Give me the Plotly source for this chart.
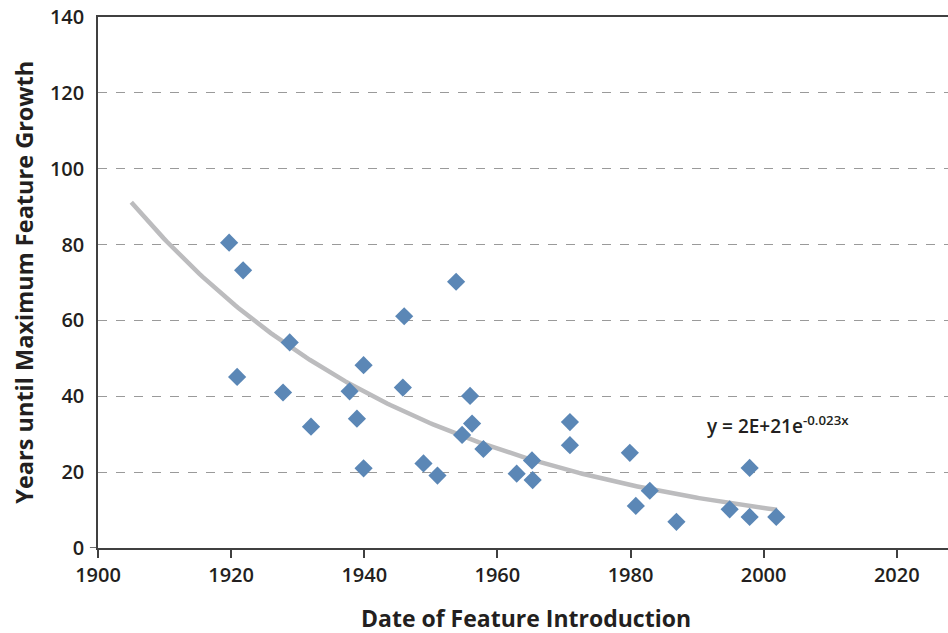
import numpy as np
import plotly.graph_objects as go

# Year each feature was introduced and years until its growth peaked
intro_year = [1919.7, 1921.8, 1920.9, 1928.8, 1927.8, 1932.0, 1937.8, 1939.9, 1938.9,
              1939.9, 1946.0, 1945.8, 1948.9, 1951.0, 1953.8, 1955.9, 1956.2, 1954.7,
              1957.9, 1962.9, 1965.2, 1965.3, 1970.9, 1970.9, 1979.9, 1980.8, 1982.9,
              1986.9, 1994.9, 1997.9, 1997.9, 2001.9]
years_to_peak = [80.5, 73.2, 45.1, 54.2, 41.0, 32.0, 41.3, 48.2, 34.1,
                 21.0, 61.1, 42.3, 22.3, 19.1, 70.2, 40.1, 32.8, 29.8,
                 26.1, 19.6, 23.1, 17.9, 33.2, 27.1, 25.1, 11.1, 15.1,
                 6.9, 10.2, 21.1, 8.2, 8.2]

# Exponential trend y = a * exp(-b x), drawn from 1905 to 2002
trend_a = 5.5e20
trend_b = 0.0227
trend_start, trend_end = 1905, 2002
equation_text = "y = 2E+21e<sup>-0.023x</sup>"

x_ticks = [1900, 1920, 1940, 1960, 1980, 2000, 2020]
y_ticks = [0, 20, 40, 60, 80, 100, 120, 140]

tx = np.linspace(trend_start, trend_end, 200)
ty = trend_a * np.exp(-trend_b * tx)

font_family = "Open Sans"
text_color = "#231f20"

fig = go.Figure()
fig.add_trace(go.Scatter(
    x=tx, y=ty, mode="lines",
    line=dict(color="#bcbcbe", width=4.5),
    hoverinfo="skip", showlegend=False,
))
fig.add_trace(go.Scatter(
    x=intro_year, y=years_to_peak, mode="markers",
    marker=dict(symbol="diamond", size=14, color="#5b87b6"),
    showlegend=False,
))

fig.update_layout(
    width=948, height=633,
    margin=dict(l=98, r=0, t=17, b=85),
    plot_bgcolor="white", paper_bgcolor="white",
    font=dict(family=font_family, color=text_color),
    xaxis=dict(
        range=[1900, 2027.7], tickvals=x_ticks,
        showgrid=False, zeroline=False,
        showline=True, linecolor="#404040", linewidth=1.5, mirror=True,
        ticks="outside", ticklen=8, tickcolor="#404040", tickwidth=1.5,
        tickfont=dict(size=20, family=font_family, weight=600, color=text_color),
    ),
    yaxis=dict(
        range=[0, 140], tickvals=y_ticks,
        showgrid=True, gridcolor="#9a9a9a", griddash="dash", gridwidth=1,
        zeroline=False,
        showline=True, linecolor="#404040", linewidth=1.5,
        ticks="", ticklabelstandoff=8,
        tickfont=dict(size=20, family=font_family, weight=600, color=text_color),
    ),
    annotations=[
        dict(text="Years until Maximum Feature Growth", textangle=-90,
             xref="paper", yref="paper", x=-0.088, y=0.5,
             xanchor="center", yanchor="middle", showarrow=False,
             font=dict(size=23.5, family=font_family, weight=700, color=text_color)),
        dict(text="Date of Feature Introduction",
             xref="paper", yref="paper", x=0.504, y=-0.132,
             xanchor="center", yanchor="middle", showarrow=False,
             font=dict(size=23, family=font_family, weight=700, color=text_color)),
        dict(text=equation_text, xref="x", yref="y", x=1991.2, y=32.5,
             xanchor="left", yanchor="middle", showarrow=False,
             font=dict(size=19, family=font_family, weight=600, color=text_color)),
    ],
    shapes=[
        dict(type="line", xref="x domain", yref="y", x0=-0.0095, x1=0, y0=0, y1=0,
             line=dict(color="#404040", width=1.5)),
    ],
)

fig.write_html("out.html")
